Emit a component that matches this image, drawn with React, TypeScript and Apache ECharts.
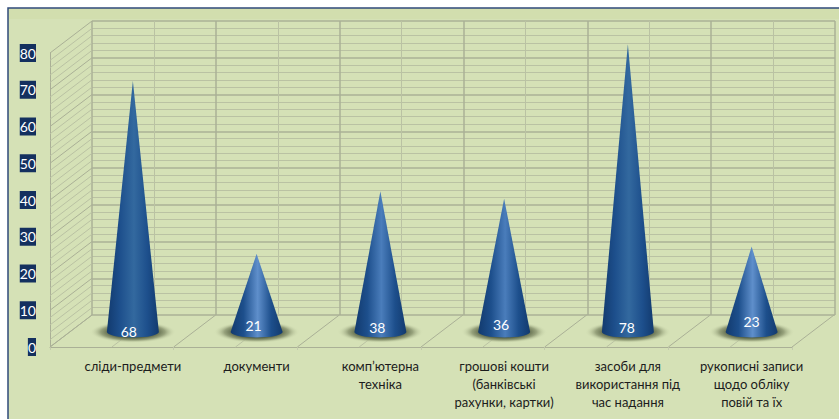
import React, { useEffect, useRef } from "react";
import * as echarts from "echarts";

const categories = [
  "сліди-предмети",
  "документи",
  "комп’ютерна\nтехніка",
  "грошові кошти\n(банківські\nрахунки, картки)",
  "засоби для\nвикористання під\nчас надання",
  "рукописні записи\nщодо обліку\nповій та їх",
];
const values = [68, 21, 38, 36, 78, 23];
const valueTicks = [0, 10, 20, 30, 40, 50, 60, 70, 80];

// Style constants
const DEPTH_X = 42;
const DEPTH_Y = -32;
const FONT = "Lato";
const labelLift = [1, 7, 5, 8, 5, 11];
const labelShift = [-4, -3, -3, -3, -1, 0];
const MAJOR = "#aab096";
const MINOR = "#bac2a3";

const wallLevels: number[] = [];
for (let v = 0; v <= 80; v += 2) wallLevels.push(v);
const floorStops: number[] = [];
for (let v = 0; v <= 12; v += 1) floorStops.push(v / 2);

function coneFill(v: number) {
  const mid = v < 30 ? "#5f8fcb" : v < 50 ? "#4a7dbb" : "#33699f";
  return new echarts.graphic.LinearGradient(0, 0, 1, 0, [
    { offset: 0, color: "#123a6e" },
    { offset: 0.25, color: "#1d4f8c" },
    { offset: 0.52, color: mid },
    { offset: 0.78, color: "#1d4f8c" },
    { offset: 1, color: "#123a6e" },
  ]);
}

export default function App() {
  const ref = useRef<HTMLDivElement>(null);
  useEffect(() => {
    document.body.style.margin = "0";
    const chart = echarts.init(ref.current!, undefined, { renderer: "svg" });
    chart.setOption({
      animation: false,
      backgroundColor: "#ffffff",
      graphic: [
        {
          type: "rect",
          z: -10,
          shape: { x: 8, y: 8, width: 840, height: 420 },
          style: { fill: "#d5e1b6", stroke: "#2f4a7a", lineWidth: 1.5 },
        },
        {
          type: "rect",
          z: -9,
          shape: { x: 9, y: 9, width: 830, height: 10 },
          style: { fill: "#d2deae" },
        },
      ],
      grid: [
        { left: 92, right: 4, top: 21, height: 294 },
        { left: 50, right: 47, top: 53, height: 294 },
        { left: 71, right: 25.5, top: 37, height: 294 },
      ],
      xAxis: [
        {
          gridIndex: 0, type: "value", min: 0, max: 6, interval: 1,
          axisLabel: { show: false }, axisTick: { show: false }, axisLine: { show: false },
          splitLine: { show: true, lineStyle: { color: MAJOR, width: 1.5 } },
          minorTick: { show: false, splitNumber: 2 },
          minorSplitLine: { show: true, lineStyle: { color: MINOR, width: 1 } },
        },
        {
          gridIndex: 1, type: "value", min: 0, max: 6, interval: 1,
          axisLabel: { show: false },
          axisLine: { show: true, lineStyle: { color: MAJOR, width: 1 } },
          axisTick: { show: true, length: 3, lineStyle: { color: "#c4cbad" } },
          splitLine: { show: false },
        },
        {
          gridIndex: 2, type: "category", data: categories,
          axisLine: { show: false }, axisTick: { show: false },
          axisLabel: {
            show: true, interval: 0, margin: 26, color: "#1c1c1c",
            fontFamily: FONT, fontSize: 13, lineHeight: 18,
          },
        },
      ],
      yAxis: [
        {
          gridIndex: 0, type: "value", min: 0, max: 80, interval: 10,
          axisLabel: { show: false }, axisTick: { show: false }, axisLine: { show: false },
          splitLine: { show: true, lineStyle: { color: MAJOR, width: 1.5 } },
          minorTick: { show: false, splitNumber: 5 },
          minorSplitLine: { show: true, lineStyle: { color: MINOR, width: 1 } },
        },
        {
          gridIndex: 1, type: "value", min: 0, max: 80, interval: 10,
          axisLine: { show: true, lineStyle: { color: MAJOR, width: 1 } },
          axisTick: { show: false },
          splitLine: { show: false },
          axisLabel: {
            show: true, margin: 14, color: "#ffffff", fontFamily: FONT, fontSize: 14,
            backgroundColor: "#14305f", padding: [1, 0, 1, 0], lineHeight: 16,
            formatter: (v: number) => (valueTicks.includes(v) ? String(v) : ""),
          },
        },
        {
          gridIndex: 2, type: "value", min: 0, max: 80, interval: 10,
          axisLabel: { show: false }, axisTick: { show: false },
          axisLine: { show: false }, splitLine: { show: false },
        },
      ],
      series: [
        {
          type: "custom", name: "wall", xAxisIndex: 1, yAxisIndex: 1, silent: true, z: 1,
          clip: false, data: wallLevels.map((v) => [0, v]),
          encode: { x: 0, y: 1 },
          renderItem: (_p: any, api: any) => {
            const v = api.value(1);
            const a = api.coord([0, v]);
            return {
              type: "line",
              shape: { x1: a[0], y1: a[1], x2: a[0] + DEPTH_X, y2: a[1] + DEPTH_Y },
              style: { stroke: v % 10 === 0 ? MAJOR : MINOR, lineWidth: 1 },
            };
          },
        },
        {
          type: "custom", name: "floor", xAxisIndex: 1, yAxisIndex: 1, silent: true, z: 1,
          clip: false, data: floorStops.map((x) => [x, 0]),
          encode: { x: 0, y: 1 },
          renderItem: (_p: any, api: any) => {
            const x = api.value(0);
            const a = api.coord([x, 0]);
            return {
              type: "line",
              shape: { x1: a[0], y1: a[1], x2: a[0] + DEPTH_X, y2: a[1] + DEPTH_Y },
              style: { stroke: Number.isInteger(x) ? MAJOR : MINOR, lineWidth: 1 },
            };
          },
        },
        {
          type: "custom", name: "cones", xAxisIndex: 2, yAxisIndex: 2, z: 5, clip: false,
          data: values.map((v, i) => [i, v]),
          encode: { x: 0, y: 1 },
          renderItem: (p: any, api: any) => {
            const i = p.dataIndex;
            const v = api.value(1);
            const base = api.coord([i, 0]);
            const top = api.coord([i, v]);
            const cx = base[0];
            const cy = base[1] + 1;
            const rx = 26;
            const ry = 5.5;
            return {
              type: "group",
              children: [
                {
                  type: "ellipse",
                  shape: { cx: cx, cy: cy, rx: 43, ry: 11 },
                  style: {
                    fill: new echarts.graphic.RadialGradient(0.5, 0.5, 0.5, [
                      { offset: 0, color: "#3a442c" },
                      { offset: 0.5, color: "#4f5a3d" },
                      { offset: 0.75, color: "#97a27c" },
                      { offset: 1, color: "rgba(213,225,182,0)" },
                    ]),
                  },
                },
                {
                  type: "path",
                  shape: {
                    pathData: `M${cx - rx} ${cy} A${rx} ${ry} 0 0 0 ${cx + rx} ${cy} L${top[0]} ${top[1]} Z`,
                    layout: "cover",
                    x: cx - rx, y: top[1], width: rx * 2, height: cy + ry - top[1],
                  },
                  style: { fill: coneFill(v) },
                },
                {
                  type: "text",
                  style: {
                    x: cx + labelShift[i], y: cy - labelLift[i], text: String(v),
                    fill: "#ffffff", font: `14px ${FONT}`,
                    align: "center", verticalAlign: "middle",
                  },
                },
              ],
            };
          },
        },
      ],
    });
    return () => chart.dispose();
  }, []);
  return (
    <div
      ref={ref}
      style={{ position: "fixed", left: 0, top: 0, width: 839, height: 419 }}
    />
  );
}
